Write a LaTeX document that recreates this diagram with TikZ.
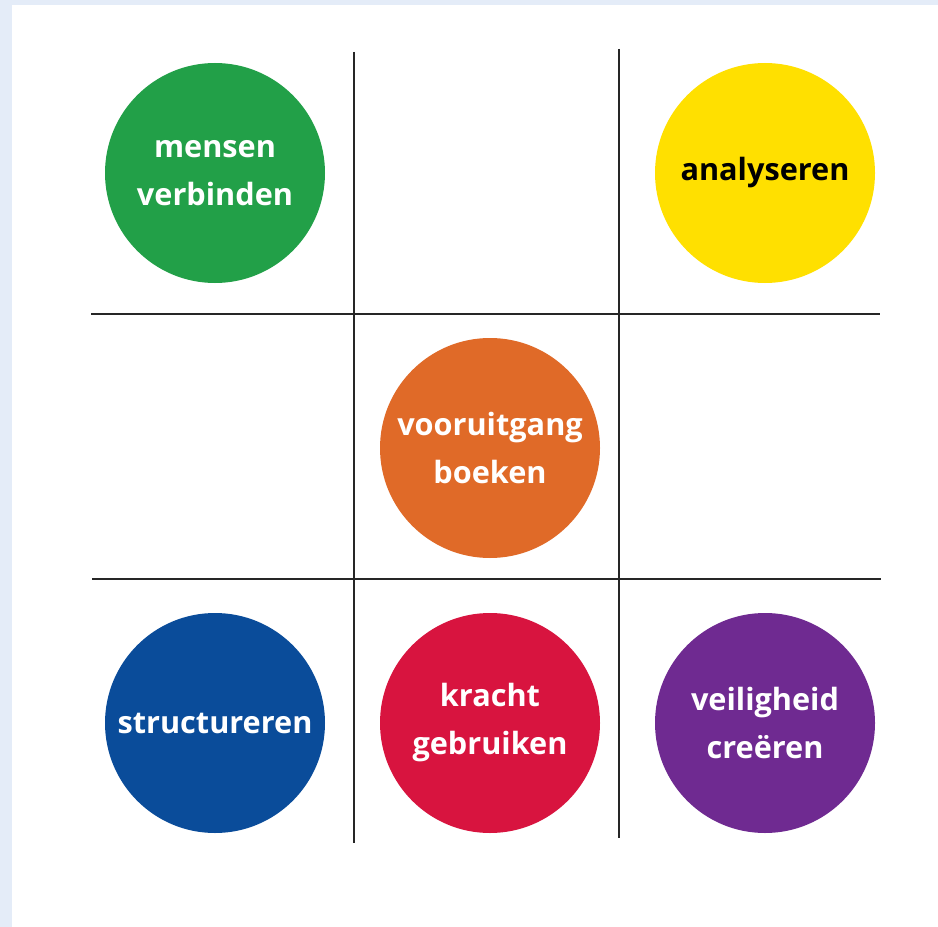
\documentclass[tikz,border=0pt]{standalone}
\usepackage{fontspec}
\setmainfont{Open Sans}
\definecolor{achtergrond}{HTML}{E4ECF8}
\definecolor{groen}{HTML}{22A048}
\definecolor{geel}{HTML}{FFE000}
\definecolor{oranje}{HTML}{E06A28}
\definecolor{blauw}{HTML}{0A4C9A}
\definecolor{rood}{HTML}{D8143F}
\definecolor{paars}{HTML}{6F2A91}

\begin{document}
\begin{tikzpicture}[x=0.75pt, y=-0.75pt, node distance={206.25pt}, spot/.style = {circle, minimum size=165pt, inner sep=0pt, align=center, text=white, font=\bfseries\fontsize{23}{36}\selectfont}, grid/.style = {line width=1.5pt, draw=black!85}]
\useasboundingbox (0,0) rectangle (938,927);
\fill[achtergrond] (0,0) rectangle (938,927);
\fill[white] (12,5) rectangle (938,927);
\draw[grid] (354,52) -- (354,843);
\draw[grid] (619,49) -- (619,838);
\draw[grid] (91,314) -- (880,314);
\draw[grid] (92,579) -- (881,579);
\node[spot, fill=groen] (verbinden) at (215,173) {mensen\\verbinden};
\node[spot, fill=blauw] (structureren) [below of=verbinden, yshift=-206.25pt] {structureren};
\node[spot, fill=rood] (kracht) [right of=structureren] {kracht\\gebruiken};
\node[spot, fill=oranje] (vooruitgang) [above of=kracht] {vooruitgang\\boeken};
\node[spot, fill=paars] (veiligheid) [right of=kracht] {veiligheid\\creëren};
\node[spot, fill=geel, text=black] (analyseren) [above of=veiligheid, yshift=206.25pt] {analyseren};
\end{tikzpicture}
\end{document}
